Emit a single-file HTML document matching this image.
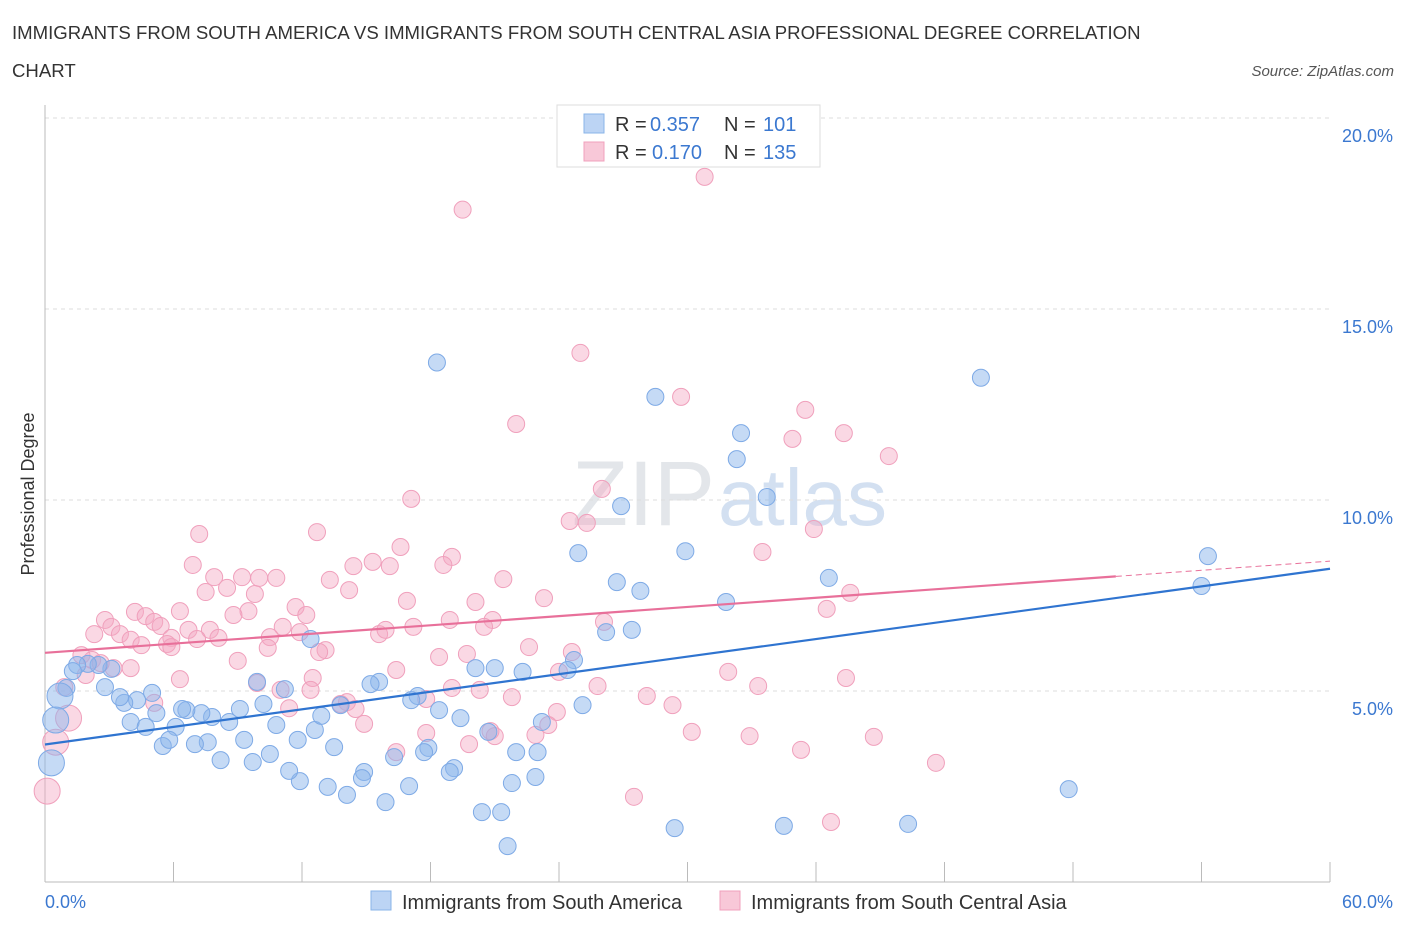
<!DOCTYPE html>
<html><head><meta charset="utf-8"><style>
body{margin:0;background:#fff;font-family:"Liberation Sans",sans-serif;}
svg text{font-family:"Liberation Sans",sans-serif;}
</style></head><body>
<svg id="chart" width="1406" height="930" viewBox="0 0 1406 930" xmlns="http://www.w3.org/2000/svg">
<text x="12" y="39" font-size="18.6" fill="#333">IMMIGRANTS FROM SOUTH AMERICA VS IMMIGRANTS FROM SOUTH CENTRAL ASIA PROFESSIONAL DEGREE CORRELATION</text>
<text x="12" y="77" font-size="18.6" fill="#333">CHART</text>
<text x="1394" y="76" font-size="15" fill="#555" font-style="italic" text-anchor="end">Source: ZipAtlas.com</text>
<text x="715" y="525" font-size="92" fill="#e3e6ea" text-anchor="end" font-family="Liberation Serif">ZIP</text>
<text x="718" y="525" font-size="80" fill="#d3e0f1">atlas</text>
<g id="grid"></g>
<g id="axes"></g>
<g id="pts"></g>
<g id="lines"></g>
<text transform="translate(34,494) rotate(-90)" font-size="18" fill="#333" text-anchor="middle">Professional Degree</text>
<g>
<rect x="557" y="105" width="263" height="62" fill="#fff" stroke="#ddd"/>
<rect x="584" y="114" width="20" height="19" fill="#bcd4f4" stroke="#8ab4e8"/>
<text x="615" y="131" font-size="20" fill="#333">R =</text>
<text x="650" y="131" font-size="20" fill="#3b78d0">0.357</text>
<text x="724" y="131" font-size="20" fill="#333">N =</text>
<text x="763" y="131" font-size="20" fill="#3b78d0">101</text>
<rect x="584" y="142" width="20" height="19" fill="#f8c8d8" stroke="#f0a0bc"/>
<text x="615" y="159" font-size="20" fill="#333">R =</text>
<text x="652" y="159" font-size="20" fill="#3b78d0">0.170</text>
<text x="724" y="159" font-size="20" fill="#333">N =</text>
<text x="763" y="159" font-size="20" fill="#3b78d0">135</text>
</g>
<g>
<rect x="371" y="891" width="20" height="19" fill="#bcd4f4" stroke="#8ab4e8"/>
<text x="402" y="909" font-size="20" fill="#333">Immigrants from South America</text>
<rect x="720" y="891" width="20" height="19" fill="#f8c8d8" stroke="#f0a0bc"/>
<text x="751" y="909" font-size="20" fill="#333">Immigrants from South Central Asia</text>
</g>
</svg>
<script>
const blueX=[18.3,28.5,32.5,32.3,33.7,43.7,26.9,24.9,29.9,26.7,27.8,31.8,36.6,54.3,54.0,26.2,27.4,24.7,24.4,25.1,21.0,20.1,22.3,15.6,15.2,17.4,17.1,18.4,19.4,23.2,20.7,22.0,23.0,17.9,17.7,16.3,17.0,14.9,14.8,19.1,18.9,21.8,22.9,20.4,21.3,15.9,14.1,13.2,11.9,11.4,13.5,12.6,11.8,12.9,13.8,12.4,9.9,11.2,10.2,10.8,10.5,9.3,9.7,8.2,8.6,9.1,7.8,7.3,6.6,6.4,6.1,7.6,7.0,5.5,5.8,5.2,5.0,4.3,4.0,4.7,3.7,3.5,2.8,3.1,2.5,2.0,1.5,1.3,1.0,47.8,40.3,34.5,29.4,21.6];
const blueY=[13.6,12.7,11.75,11.07,10.08,13.2,9.84,8.61,8.66,7.85,7.62,7.33,7.96,8.53,7.75,6.54,6.6,5.81,5.55,4.63,5.6,5.6,5.5,5.24,5.18,4.87,4.76,4.5,4.29,4.19,3.93,3.4,3.4,3.51,3.4,3.27,2.51,2.88,2.72,2.98,2.88,2.59,2.75,1.83,1.83,2.09,2.28,2.49,2.64,2.91,3.53,3.98,3.72,4.35,4.63,6.36,5.24,5.05,4.66,4.11,3.35,3.72,3.14,3.19,4.19,4.53,4.32,4.42,4.5,4.53,4.06,3.66,3.61,3.56,3.72,4.42,4.95,4.76,4.19,4.06,4.69,4.84,5.1,5.58,5.68,5.71,5.68,5.52,5.08,2.43,1.52,1.47,1.41,0.94];
const blueBigX=[0.7,0.5,0.3];
const blueBigY=[4.87,4.24,3.12];
const pinkX=[30.8,19.5,25.0,29.7,22.0,35.5,37.3,34.9,39.4,17.1,26.0,24.5,25.3,35.9,12.7,7.2,16.6,19.0,18.6,14.4,15.3,16.1,33.5,6.9,13.3,14.2,21.4,9.2,10.0,10.8,7.9,8.5,9.8,9.5,7.5,8.8,6.3,4.2,4.7,5.1,2.8,3.1,5.4,11.7,12.2,16.9,20.1,23.3,20.9,20.5,18.9,17.2,15.6,15.9,11.9,11.1,10.5,7.7,8.1,5.9,6.7,7.1,3.5,2.3,4.0,4.5,5.7,5.9,10.4,13.1,12.8,22.6,24.6,26.1,37.6,36.5,18.4,19.7,9.0,16.4,12.5,6.3,9.9,11.0,12.4,3.2,4.0,1.7,1.9,2.2,2.6,24.0,25.8,20.3,21.8,17.8,19.0,14.1,13.8,14.5,11.4,5.1,28.1,29.3,31.9,33.3,37.4,23.9,14.9,17.8,16.4,20.8,21.0,19.8,23.5,22.9,30.2,32.9,35.3,38.7,41.6,27.5,36.7,0.9];
const pinkY=[18.46,17.6,13.85,12.7,11.99,12.36,11.75,11.6,11.15,10.03,10.29,9.45,9.4,9.24,9.16,9.11,8.77,8.51,8.3,8.27,8.38,8.27,8.64,8.3,7.91,7.64,7.93,7.98,7.96,7.96,7.98,7.7,7.54,7.09,7.59,6.99,7.09,7.07,6.96,6.81,6.86,6.68,6.7,7.2,6.99,7.36,7.33,7.43,6.86,6.68,6.86,6.68,6.49,6.6,6.54,6.68,6.41,6.6,6.39,6.39,6.6,6.36,6.49,6.49,6.34,6.2,6.23,6.15,6.13,6.07,6.02,6.15,6.02,6.81,7.57,7.15,5.89,5.97,5.79,5.55,5.34,5.31,5.21,5.03,5.03,5.6,5.6,5.94,5.42,5.81,5.73,5.5,5.13,5.03,4.84,4.79,5.08,4.71,4.66,4.53,4.55,4.69,4.87,4.63,5.5,5.13,5.34,4.45,4.14,3.9,3.4,3.95,3.82,3.61,4.11,3.85,3.93,3.82,3.46,3.8,3.12,2.23,1.57,5.1];
const pinkBigX=[1.1,0.5,0.1];
const pinkBigY=[4.29,3.66,2.38];
const yTicks=[5,10,15,20];
const yTickLabels=["5.0%","10.0%","15.0%","20.0%"];
const xTicks=[0,6,12,18,24,30,36,42,48,54,60];
const blueTrend=[3.6,8.2];
const pinkTrend=[6.0,8.4];
const pinkSolidEnd=50;

const NS="http://www.w3.org/2000/svg";
const X0=45,X1=1330,Y0=882,PPY=38.2;
function sx(v){return X0+(v/60)*(X1-X0);}
function sy(v){return Y0-v*PPY;}
function mk(tag,attrs,parent){const e=document.createElementNS(NS,tag);for(const k in attrs)e.setAttribute(k,attrs[k]);document.getElementById(parent).appendChild(e);return e;}

yTicks.forEach((t,i)=>{
 const g=mk('line',{x1:X0,x2:X1,y1:sy(t),y2:sy(t),stroke:'#ddd','stroke-dasharray':'4,4'},'grid');
 
 
 const l=mk('text',{x:1393,y:sy(t)+24,'font-size':18,fill:'#3b78d0','text-anchor':'end'},'axes');
 l.textContent=yTickLabels[i];
 
 
});
const ax=mk('line',{x1:X0,x2:X0,y1:105,y2:Y0,stroke:'#bbb'},'axes');


const bx=mk('line',{x1:X0,x2:X1,y1:Y0,y2:Y0,stroke:'#bbb'},'axes');


xTicks.forEach(t=>{
 const tk=mk('line',{x1:sx(t),x2:sx(t),y1:Y0-20,y2:Y0,stroke:'#bbb'},'axes');
 
 
});
const xl0=mk('text',{x:45,y:908,'font-size':18,fill:'#3b78d0'},'axes');xl0.textContent=xTicks[0].toFixed(1)+"%";


const xl1=mk('text',{x:1393,y:908,'font-size':18,fill:'#3b78d0','text-anchor':'end'},'axes');xl1.textContent=xTicks[xTicks.length-1].toFixed(1)+"%";



function dots(xs,ys,r,fill,stroke,name){
 xs.forEach((x,i)=>{
  const c=mk('circle',{cx:sx(x),cy:sy(ys[i]),r:r,fill:fill,stroke:stroke,'stroke-width':1},'pts');
  
  
 });
}
dots(pinkX,pinkY,8.5,'rgba(244,168,195,0.45)','#f0a0bc','point-south-central-asia');
dots(blueX,blueY,8.5,'rgba(140,182,236,0.5)','#7eaae6','point-south-america');
dots(pinkBigX,pinkBigY,13,'rgba(244,168,195,0.45)','#f0a0bc','point-south-central-asia-large');
dots(blueBigX,blueBigY,13,'rgba(140,182,236,0.5)','#7eaae6','point-south-america-large');

const bl=mk('line',{x1:sx(0),y1:sy(blueTrend[0]),x2:sx(60),y2:sy(blueTrend[1]),stroke:'#2f74d0','stroke-width':2.2},'lines');


const pm=pinkTrend[0]+(pinkTrend[1]-pinkTrend[0])*pinkSolidEnd/60;
const pl=mk('line',{x1:sx(0),y1:sy(pinkTrend[0]),x2:sx(pinkSolidEnd),y2:sy(pm),stroke:'#e8709a','stroke-width':2.2},'lines');


const pd=mk('line',{x1:sx(pinkSolidEnd),y1:sy(pm),x2:sx(60),y2:sy(pinkTrend[1]),stroke:'#e8709a','stroke-width':1,'stroke-dasharray':'6,4'},'lines');


</script>
</body></html>
